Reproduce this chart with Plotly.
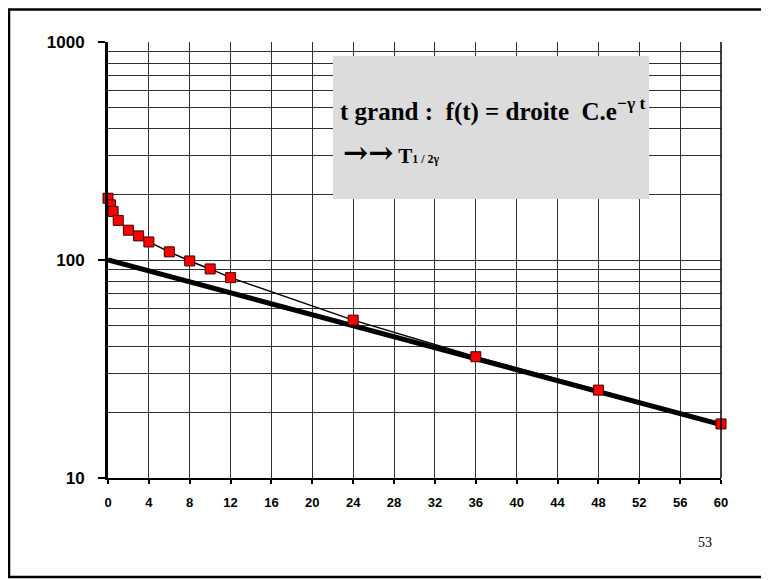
import plotly.graph_objects as go

# Data
t_data = [0, 0.25, 0.5, 1, 2, 3, 4, 6, 8, 10, 12, 24, 36, 48, 60]
f_data = [192, 179, 167, 152, 137, 129, 121, 109, 99, 91, 83, 53, 36, 25.3, 17.7]
t_fit = [0, 60]
f_fit = [100, 17.6]
x_ticks = list(range(0, 61, 4))
y_major = [10, 100, 1000]
y_minor = [m * d for d in (10, 100) for m in range(2, 10)]

fig = go.Figure()
fig.add_trace(go.Scatter(x=t_fit, y=f_fit, mode="lines",
                         line=dict(color="black", width=5), showlegend=False))
fig.add_trace(go.Scatter(x=t_data, y=f_data, mode="lines+markers",
                         line=dict(color="black", width=1.5),
                         marker=dict(symbol="square", size=10, color="#ff0000",
                                     line=dict(color="#3a0000", width=1)),
                         showlegend=False, cliponaxis=False))

grid_col = "#303030"
sans = "Liberation Sans, Arial"
fig.update_xaxes(range=[0, 60], tickvals=x_ticks, ticktext=[str(v) for v in x_ticks],
                 showgrid=True, gridcolor=grid_col, gridwidth=1,
                 showline=True, linecolor="black", linewidth=2,
                 ticks="outside", ticklen=4, tickwidth=2, tickcolor="black",
                 ticklabelstandoff=7,
                 tickfont=dict(family=sans, size=13, color="black", weight="bold"),
                 zeroline=False)
fig.update_yaxes(type="log", range=[1, 3], tickvals=y_major,
                 ticktext=[str(v) for v in y_major],
                 showgrid=True, gridcolor=grid_col, gridwidth=1,
                 showline=True, linecolor="black", linewidth=3,
                 ticks="outside", ticklen=7, tickwidth=2, tickcolor="black",
                 ticklabelstandoff=10,
                 tickfont=dict(family=sans, size=17, color="black", weight="bold"),
                 minor=dict(tickmode="array", tickvals=y_minor, showgrid=True,
                            gridcolor=grid_col, gridwidth=1, ticks=""),
                 zeroline=False)

shapes = [
    # right border of the grid
    dict(type="line", xref="paper", yref="paper", x0=1, x1=1, y0=0, y1=1,
         line=dict(color="black", width=1.5), layer="above"),
    # grey text box
    dict(type="rect", xref="paper", yref="paper", x0=0.367, x1=0.8826, y0=0.640, y1=0.968,
         fillcolor="#dcdcdc", line=dict(width=0), layer="above"),
    # slide frame
    dict(type="rect", xref="paper", yref="paper", x0=-0.1615, x1=1.10, y0=-0.227, y1=1.0745,
         line=dict(color="black", width=2.5), fillcolor="rgba(0,0,0,0)", layer="above"),
]

serif = "Liberation Serif, Times New Roman"
annotations = [
    dict(xref="paper", yref="paper", x=0.376, y=0.845, xanchor="left", yanchor="middle",
         text="<b>t grand :  f(t) = droite  C.e<sup>−γ t</sup></b>", showarrow=False,
         font=dict(family=serif, size=25, color="black")),
    dict(xref="paper", yref="paper", x=0.380, y=0.746, xanchor="left", yanchor="middle",
         text="<b><span style='font-family:DejaVu Serif;font-size:30px'>→→</span> T"
              "<span style='font-size:12px'>1 / 2γ</span></b>", showarrow=False,
         font=dict(family=serif, size=21, color="black")),
    dict(xref="paper", yref="paper", x=0.974, y=-0.148, xanchor="center", yanchor="middle",
         text="53", showarrow=False, font=dict(family=serif, size=14, color="black")),
    dict(xref="paper", yref="paper", x=1.078, y=-0.204, xanchor="left", yanchor="middle",
         text="<b>5</b>", showarrow=False, font=dict(family=serif, size=11, color="black")),
]

fig.update_layout(width=761, height=572, margin=dict(l=100, r=48, t=34, b=102),
                  paper_bgcolor="white", plot_bgcolor="white",
                  shapes=shapes, annotations=annotations, showlegend=False)

fig.write_html("out.html")
